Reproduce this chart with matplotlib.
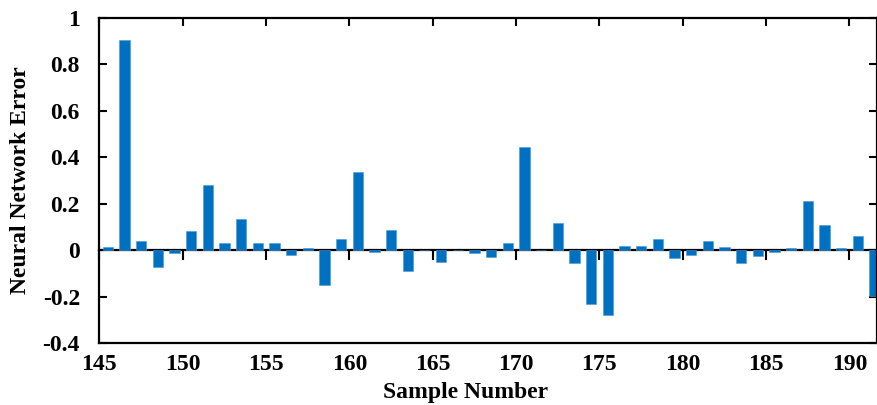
import numpy as np
import matplotlib
matplotlib.use('Agg')
import matplotlib.pyplot as plt
from matplotlib.ticker import FormatStrFormatter

# sample numbers and network error
samples = np.arange(145, 192)
errors = [0.015, 0.905, 0.039, -0.072, -0.014, 0.083, 0.280, 0.029, 0.134, 0.030,
          0.029, -0.019, 0.010, -0.151, 0.050, 0.336, -0.010, 0.086, -0.089, 0.0,
          -0.053, 0.0, -0.014, -0.031, 0.033, 0.445, 0.0, 0.118, -0.057, -0.233,
          -0.281, 0.017, 0.019, 0.049, -0.033, -0.019, 0.040, 0.014, -0.055, -0.027,
          -0.010, 0.011, 0.210, 0.108, 0.011, 0.060, -0.198]
xticks = [145, 150, 155, 160, 165, 170, 175, 180, 185, 190]
yticks = [-0.4, -0.2, 0, 0.2, 0.4, 0.6, 0.8, 1]

plt.rcParams['font.family'] = 'Liberation Serif'
plt.rcParams['font.weight'] = 'bold'
plt.rcParams['axes.unicode_minus'] = False

fig = plt.figure(figsize=(8.77, 4.05), dpi=100)
ax = fig.add_axes([0.1133, 0.153, 0.8862, 0.8026])

ax.bar(samples + 0.5, errors, width=0.62, color='#0070C0', edgecolor='#4a9ad8', linewidth=0.4, zorder=2)

ax.set_xlim(145, 191.63)
ax.set_ylim(-0.4, 1)
ax.set_xticks(xticks)
ax.set_yticks(yticks)
ax.yaxis.set_major_formatter(FormatStrFormatter('%g'))

for s in ax.spines.values():
    s.set_linewidth(1.6)
ax.tick_params(axis='x', which='both', bottom=False, top=True, direction='in', length=6, width=1.5,
               labelsize=17, pad=8)
ax.tick_params(axis='y', which='both', left=True, right=True, direction='in', length=6, width=1.5,
               labelsize=17, pad=14)

# zero baseline with downward ticks
zero_ax = ax.secondary_xaxis(0.4 / 1.4)
zero_ax.set_xticks(xticks)
zero_ax.tick_params(direction='out', length=7, width=1.5, labelbottom=False)
zero_ax.spines['bottom'].set_linewidth(1.6)

ax.set_xlabel('Sample Number', fontsize=17, fontweight='bold')
ax.xaxis.set_label_coords(0.471, -0.12)
ax.set_ylabel('Neural Network Error', fontsize=17, fontweight='bold')
ax.yaxis.set_label_coords(-0.088, 0.5)

plt.savefig('out.png', dpi=100)
